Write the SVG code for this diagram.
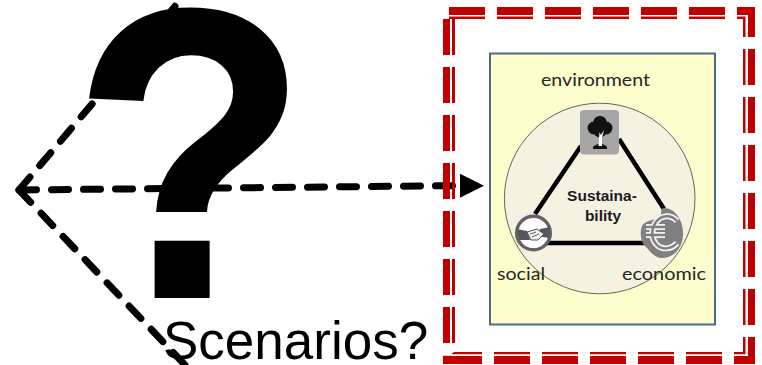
<svg xmlns="http://www.w3.org/2000/svg" width="762" height="365" viewBox="0 0 762 365">
<style>
.dash{fill:none;stroke:#000;stroke-width:7;stroke-linecap:round;stroke-dasharray:17 15}
.red{fill:#c00000}
.tri{stroke:#000;stroke-width:4.5;stroke-linecap:butt;fill:none}
.lab{font-family:"Lato","Open Sans",sans-serif;font-size:18px;fill:#262626}
.bold{font-family:"Liberation Sans",Arial,sans-serif;font-weight:700;font-size:15.500px;fill:#1c1c1c;text-anchor:middle}
</style>
<defs>
<marker id="head" markerUnits="userSpaceOnUse" markerWidth="26" markerHeight="26" refX="0" refY="12.5" orient="auto">
<path d="M0 0.5L24 12.5L0 24.5Z" fill="#000"/>
</marker>
<path id="euro" d="M677 221C671 214 661 215 656 222C651 229 651 238 656 244C661 250 671 250 677 243M646 227H665M646 235H665" fill="none"/>
</defs>
<g id="connectors">
<path class="dash" d="M19 190L177 4"/>
<path class="dash" d="M19 190L186 366"/>
<path class="dash" d="M19.500 190L453 185.700"/>
<path d="M453 185.700L460 185.700" fill="none" stroke="none" marker-end="url(#head)"/>
</g>
<g id="question">
<text transform="translate(75 298) scale(.975 1.086)" x="0" y="0" font-family="Liberation Mono, monospace" font-weight="700" font-size="400" fill="#000">?</text>
</g>
<g id="scenarios">
<text x="163" y="359" font-family="Liberation Sans, Arial, sans-serif" font-size="53" fill="#000">Scenarios?</text>
</g>
<g id="border">
<path class="red" d="M449 7h36v8h-36zM497 7h36v8h-36zM545 7h36v8h-36zM593 7h36v8h-36zM641 7h36v8h-36zM689 7h36v8h-36zM449 16.500h36v2.500h-36zM497 16.500h36v2.500h-36zM545 16.500h36v2.500h-36zM593 16.500h36v2.500h-36zM641 16.500h36v2.500h-36zM689 16.500h36v2.500h-36z"/>
<path class="red" d="M737 7H755V37H748V15H737ZM737 16.500H745.500V37H743V19H737Z"/>
<path class="red" d="M748 49h7v36h-7zM748 97h7v36h-7zM748 145h7v36h-7zM748 193h7v36h-7zM748 241h7v36h-7zM748 289h7v36h-7zM743 49h2.500v36h-2.500zM743 97h2.500v36h-2.500zM743 145h2.500v36h-2.500zM743 193h2.500v36h-2.500zM743 241h2.500v36h-2.500zM743 289h2.500v36h-2.500z"/>
<path class="red" d="M755 337V364H734V356H748V337ZM745.500 337V354.300H734V352H743V337Z"/>
<path class="red" d="M494 356h36v8h-36zM542 356h36v8h-36zM590 356h36v8h-36zM638 356h36v8h-36zM686 356h36v8h-36zM494 352h36v2.300h-36zM542 352h36v2.300h-36zM590 352h36v2.300h-36zM638 352h36v2.300h-36zM686 352h36v2.300h-36z"/>
<path class="red" d="M443 355.700H450L452 356H482V364H443ZM454 352H482V354.300H451Z"/>
<path class="red" d="M443 19h7v36h-7zM443 67h7v36h-7zM443 115h7v36h-7zM443 163h7v36h-7zM443 211h7v36h-7zM443 259h7v36h-7zM443 307h7v36h-7zM452 19h3v36h-3zM452 67h3v36h-3zM452 115h3v36h-3zM452 163h3v36h-3zM452 211h3v36h-3zM452 259h3v36h-3zM452 307h3v36h-3z"/>
</g>
<g id="sustainability">
<rect x="490" y="53.500" width="225" height="271" fill="#fefdcd" stroke="#4f6a87" stroke-width="2"/>
<circle cx="599.700" cy="198.500" r="95.300" fill="#f5f2e2" stroke="#66664f" stroke-width="1"/>
<path class="tri" d="M535 214L581 146M619 139L664 209M546 243H645"/>
<text class="lab" x="541" y="86" textLength="109" lengthAdjust="spacingAndGlyphs">environment</text>
<text class="lab" x="497" y="280" textLength="48" lengthAdjust="spacingAndGlyphs">social</text>
<text class="lab" x="622" y="280" textLength="84" lengthAdjust="spacingAndGlyphs">economic</text>
<text class="bold" x="602" y="201">Sustaina-</text>
<text class="bold" x="603" y="221">bility</text>
</g>
<g id="environment-icon">
<rect x="580" y="110" width="39" height="44.500" rx="4" fill="#a6a6a6"/>
<path d="M593 147C594 145 597 145 598 144H602C604 145 606 145 607 147V149H593Z" fill="#111"/>
<circle cx="600" cy="123" r="7" fill="#111"/>
<circle cx="594" cy="128" r="6.500" fill="#111"/>
<circle cx="606" cy="128" r="6.500" fill="#111"/>
<circle cx="600" cy="131" r="6.500" fill="#111"/>
<path d="M598.500 146L599.500 132L601 135L604 130L602 138V146Z" fill="#fff"/>
</g>
<g id="social-icon">
<circle cx="533.500" cy="233" r="16.800" fill="#fff" stroke="#636363" stroke-width="3.500"/>
<path d="M517 229L527 231L530 240L519 240ZM550 227L540 229L537 236L549 238Z" fill="#55555a"/>
<path d="M527 232L537 229L544 234L538 240L531 240Z" fill="#eee" stroke="#555" stroke-width="1"/>
<path d="M530 234L536 232M532 237L539 234" stroke="#444" stroke-width="0.800" fill="none"/>
</g>
<g id="economic-icon">
<path d="M664 208C676 208 684 222 683 236C682 250 672 258 662 258C654 258 649 250 645 246C640 241 640 232 642 226C645 220 656 220 660 217C662 214 660 208 664 208Z" fill="#808080"/>
<use href="#euro" stroke="#f2f2f2" stroke-width="6"/>
<use href="#euro" stroke="#808080" stroke-width="2.500"/>
</g>
</svg>
